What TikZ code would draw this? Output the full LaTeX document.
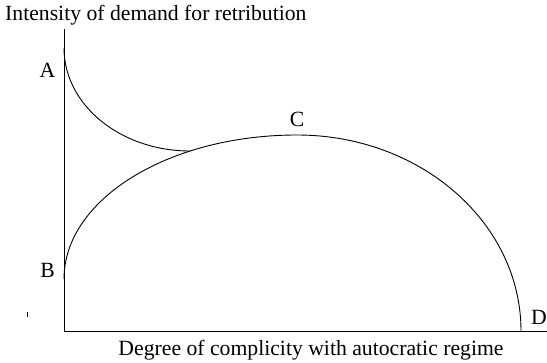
\documentclass[tikz,border=0pt]{standalone}
\usepackage{fontspec}
\setmainfont{Liberation Serif}
\usetikzlibrary{calc}

\begin{document}
\begin{tikzpicture}[x=1pt,y=-1pt, lbl/.style={font=\fontsize{21.7}{24}\selectfont, inner sep=0pt, anchor=base}]
    \useasboundingbox (0,0) rectangle (547,363);

    % Define the axes and the points on them
    \coordinate (O) at (64,331);
    \coordinate (Top) at (64,29);
    \coordinate (End) at (547,331);
    \coordinate (A) at (64,48);
    \coordinate (B) at (64,279);

    % Draw the axes
    \draw[line width=0.9pt] (Top) -- (O) -- (End);
    \draw[line width=0.9pt] (27,312) -- (27,317);

    % Curve from A down to the big curve
    \draw[line width=0.9pt] (A) arc[start angle=180, end angle=90, x radius=126, y radius=103];

    % Big curve from B over C to D
    \draw[line width=0.9pt] (B) arc[start angle=180, end angle=270, x radius=233, y radius=144]
        coordinate (C)
        arc[start angle=270, end angle=360, x radius=224, y radius=196] coordinate (D);

    % Labels
    \node[lbl, anchor=base west] (ylab) at (5,21) {Intensity of demand for retribution};
    \node[lbl] (xlab) at (311,356) {Degree of complicity with autocratic regime};
    \node[lbl] (Alab) at (47.5,78) {A};
    \node[lbl] (Blab) at (47.5,278) {B};
    \node[lbl] (Clab) at ($(C)+(0,-8)$) {C};
    \node[lbl] (Dlab) at (539,325) {D};
\end{tikzpicture}
\end{document}
